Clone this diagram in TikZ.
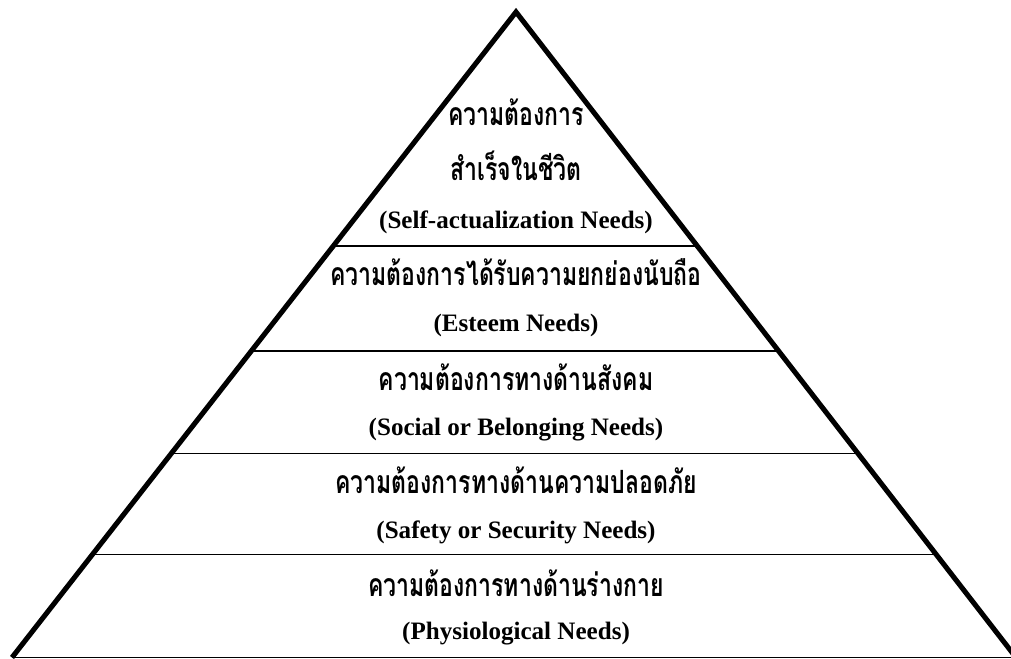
\documentclass[tikz,border=0pt]{standalone}
\usepackage{fontspec}
\setmainfont{Liberation Serif}
\newfontfamily\thaifont[Script=Thai,FakeStretch=0.72]{Loma}
\usetikzlibrary{calc}
\tikzset{
  side/.style={line width=3.8pt, line join=miter, line cap=butt},
  level/.style={line width=1.2pt},
  thai/.style={font=\thaifont\bfseries\fontsize{24pt}{26pt}\selectfont, inner sep=0pt, anchor=center},
  eng/.style={font=\bfseries\fontsize{18.8pt}{22pt}\selectfont, inner sep=0pt, anchor=center}
}
\begin{document}
\begin{tikzpicture}[x=0.75pt,y=-0.75pt]
\useasboundingbox (0,0) rectangle (1011,659);
\clip (0,0) rectangle (1011,659);
\coordinate (apex) at (516,12);
\coordinate (bl) at (12,657.5);
\coordinate (br) at (1016,657.5);
\coordinate (l1) at ($(apex)!0.3628!(bl)$);
\coordinate (r1) at ($(apex)!0.3628!(br)$);
\coordinate (l2) at ($(apex)!0.5256!(bl)$);
\coordinate (r2) at ($(apex)!0.5256!(br)$);
\coordinate (l3) at ($(apex)!0.6837!(bl)$);
\coordinate (r3) at ($(apex)!0.6837!(br)$);
\coordinate (l4) at ($(apex)!0.8403!(bl)$);
\coordinate (r4) at ($(apex)!0.8403!(br)$);
\draw[level] (l1) -- (r1);
\draw[level] (l2) -- (r2);
\draw[level] (l3) -- (r3);
\draw[level] (l4) -- (r4);
\draw[level] (bl) -- (br);
\draw[side] (bl) -- (apex) -- (br);
\node[thai] (t1a) at (516,112) {ความต้องการ};
\node[thai] (t1b) at (516,166) {สำเร็จในชีวิต};
\node[eng] (e1) at (516,222) {(Self-actualization Needs)};
\node[thai] (t2) at (516,272) {ความต้องการได้รับความยกย่องนับถือ};
\node[eng] (e2) at (516,325) {(Esteem Needs)};
\node[thai] (t3) at (516,377) {ความต้องการทางด้านสังคม};
\node[eng] (e3) at (516,430) {(Social or Belonging Needs)};
\node[thai] (t4) at (516,480) {ความต้องการทางด้านความปลอดภัย};
\node[eng] (e4) at (516,532) {(Safety or Security Needs)};
\node[thai] (t5) at (516,583) {ความต้องการทางด้านร่างกาย};
\node[eng] (e5) at (516,634) {(Physiological Needs)};
\end{tikzpicture}
\end{document}
